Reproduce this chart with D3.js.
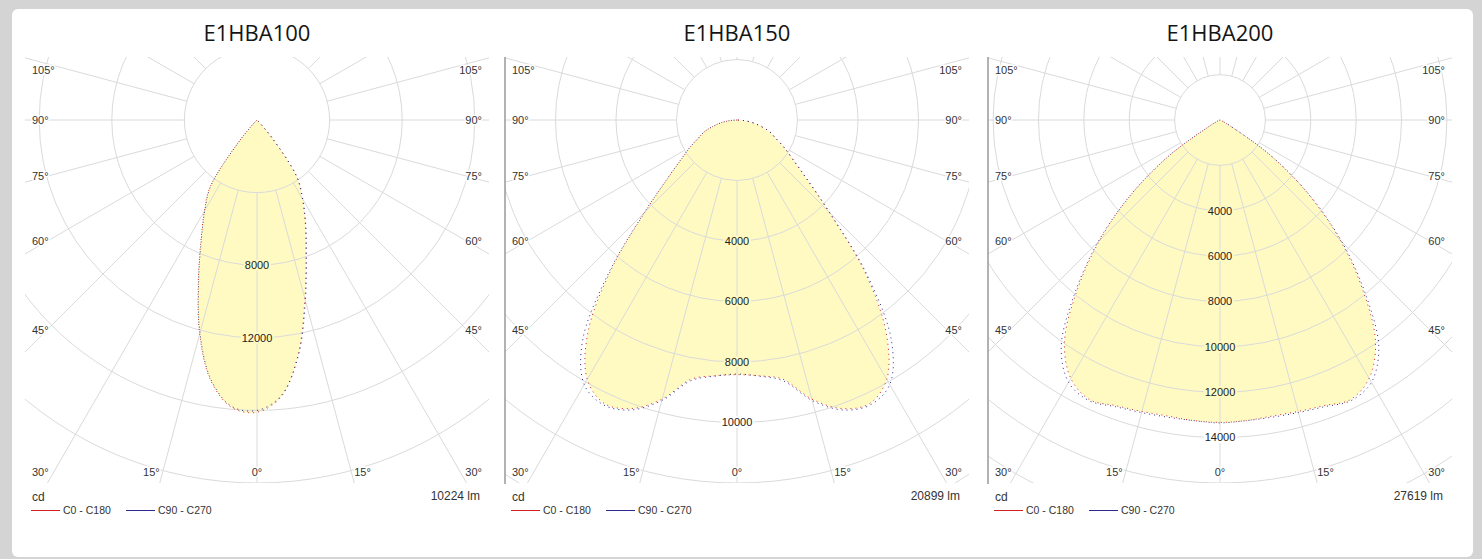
<!DOCTYPE html>
<html>
<head>
<meta charset="utf-8">
<script src="https://cdn.jsdelivr.net/npm/d3@7"></script>
<style>
  html, body { margin: 0; padding: 0; background: #d4d4d4; }
  svg { display: block; }
  text { font-family: Arial, "Liberation Sans", sans-serif; }
</style>
</head>
<body>
<div id="chart"></div>
<script>
// photometric angles (gamma), degrees from nadir
var angles = [0, 5, 10, 15, 20, 25, 30, 35, 40, 45, 50, 55, 60, 65, 70, 75, 80, 85, 90];

var titles = ["E1HBA100", "E1HBA150", "E1HBA200"];
var fluxLabels = ["10224 lm", "20899 lm", "27619 lm"];
var ringStep = [4000, 2000, 2000];
var ringMax = [20000, 12000, 16000];
var ringLabels = [
    [8000, 12000],
    [4000, 6000, 8000, 10000],
    [4000, 6000, 8000, 10000, 12000, 14000]
];
var sideAngles = [105, 90, 75, 60, 45];
var bottomAngles = [30, 15, 0];
var legendNames = ["C0 - C180", "C90 - C270"];

// intensities in cd, one value per angle
var c0_100   = [16100, 15300, 13100, 10200, 7900, 6300, 5000, 3800, 1300, 100, 0, 0, 0, 0, 0, 0, 0, 0, 0];
var c180_100 = [16100, 15900, 14600, 12200, 9450, 7300, 5800, 4500, 1500, 150, 0, 0, 0, 0, 0, 0, 0, 0, 0];
var c90_100  = [16000, 15250, 13150, 10300, 7950, 6350, 5050, 3850, 1350, 100, 0, 0, 0, 0, 0, 0, 0, 0, 0];
var c270_100 = [16050, 15850, 14550, 12150, 9400, 7250, 5750, 4450, 1450, 150, 0, 0, 0, 0, 0, 0, 0, 0, 0];

var c0_150   = [8420, 8490, 8700, 9550, 10150, 10350, 9900, 8600, 6600, 4300, 2970, 2230, 1780, 1400, 1160, 830, 540, 260, 0];
var c180_150 = [8420, 8490, 8700, 9550, 10150, 10350, 9900, 8600, 6500, 4300, 2970, 2230, 1780, 1400, 1160, 830, 540, 260, 0];
var c90_150  = [8400, 8500, 8750, 9600, 10200, 10400, 10100, 8900, 6700, 4350, 3000, 2250, 1790, 1400, 1160, 830, 540, 260, 0];
var c270_150 = [8400, 8500, 8750, 9600, 10200, 10400, 10100, 8900, 6600, 4350, 3000, 2250, 1790, 1400, 1160, 830, 540, 260, 0];

var c0_200   = [13330, 13300, 13250, 13300, 13400, 13600, 13150, 11950, 9800, 7500, 5100, 2700, 500, 120, 40, 0, 0, 0, 0];
var c180_200 = [13330, 13300, 13250, 13300, 13400, 13600, 13150, 11950, 9800, 7500, 5100, 2700, 500, 120, 40, 0, 0, 0, 0];
var c90_200  = [13350, 13300, 13300, 13350, 13450, 13650, 13350, 12200, 9950, 7600, 5150, 2750, 520, 120, 40, 0, 0, 0, 0];
var c270_200 = [13350, 13300, 13300, 13350, 13450, 13650, 13350, 12200, 9950, 7600, 5150, 2750, 520, 120, 40, 0, 0, 0, 0];

var curves = [
    { red: [c0_100, c180_100], blue: [c90_100, c270_100] },
    { red: [c0_150, c180_150], blue: [c90_150, c270_150] },
    { red: [c0_200, c180_200], blue: [c90_200, c270_200] }
];

var W = 1482, H = 559;
var panelLeft = [25, 505, 988];
var panelW = 464, top0 = 57, bottom0 = 483, cy = 120;
var gridColor = "#dadada";
var fillColor = "#fffac2";

var svg = d3.select("#chart").append("svg")
    .attr("width", W)
    .attr("height", H);

svg.append("rect")
    .attr("x", 12).attr("y", 9)
    .attr("width", 1461).attr("height", 548)
    .attr("rx", 6)
    .attr("fill", "#fff");

var toRad = Math.PI / 180;

// signed gamma list: C180 side (left) then C0 side (right)
function profile(right, left) {
    var pts = [];
    for (var i = angles.length - 1; i > 0; i--) pts.push([-angles[i], left[i]]);
    for (var j = 0; j < angles.length; j++) pts.push([angles[j], right[j]]);
    return pts;
}

titles.forEach(function (title, p) {
    var x0 = panelLeft[p], x1 = x0 + panelW, cx = x0 + panelW / 2;
    var R = bottom0 - cy;
    var r = d3.scaleLinear().domain([0, ringMax[p]]).range([0, R]);
    var g = svg.append("g");

    g.append("clipPath").attr("id", "clip" + p)
        .append("rect")
        .attr("x", x0).attr("y", top0)
        .attr("width", panelW).attr("height", bottom0 - top0);

    var plot = g.append("g")
        .attr("clip-path", "url(#clip" + p + ")")
        .append("g")
        .attr("transform", "translate(" + cx + "," + cy + ")");

    var line = d3.lineRadial()
        .angle(function (d) { return Math.PI - d[0] * toRad; })
        .radius(function (d) { return r(d[1]); })
        .curve(d3.curveCatmullRom.alpha(0.5));

    var redPts = profile(curves[p].red[0], curves[p].red[1]);
    var bluePts = profile(curves[p].blue[0], curves[p].blue[1]);

    plot.append("path")
        .attr("d", line(redPts) + "Z")
        .attr("fill", fillColor)
        .attr("stroke", "none");

    // rings
    var rings = d3.range(ringStep[p], ringMax[p] * 1.6, ringStep[p]);
    plot.selectAll(".ring")
        .data(rings)
        .enter().append("circle")
        .attr("r", function (d) { return r(d); })
        .attr("fill", "none")
        .attr("stroke", gridColor)
        .attr("stroke-width", 1);

    // spokes every 15 deg, starting at first ring
    var spokes = d3.range(0, 360, 15);
    plot.selectAll(".spoke")
        .data(spokes)
        .enter().append("line")
        .attr("x1", function (d) { return r(ringStep[p]) * Math.sin(d * toRad); })
        .attr("y1", function (d) { return r(ringStep[p]) * Math.cos(d * toRad); })
        .attr("x2", function (d) { return 700 * Math.sin(d * toRad); })
        .attr("y2", function (d) { return 700 * Math.cos(d * toRad); })
        .attr("stroke", gridColor)
        .attr("stroke-width", 1);

    plot.append("path")
        .attr("d", line(redPts) + "Z")
        .attr("fill", "none")
        .attr("stroke", "#d42020")
        .attr("stroke-width", 1)
        .attr("stroke-dasharray", "1 4");

    plot.append("path")
        .attr("d", line(bluePts) + "Z")
        .attr("fill", "none")
        .attr("stroke", "#2a2a90")
        .attr("stroke-width", 1)
        .attr("stroke-dasharray", "1 4")
        .attr("stroke-dashoffset", 2.5);

    // cd labels on the 0 deg axis
    var i0 = curves[p].red[0][0];
    plot.selectAll(".rlab")
        .data(ringLabels[p])
        .enter().append("text")
        .attr("x", 0)
        .attr("y", function (d) { return r(d); })
        .attr("dy", "0.35em")
        .attr("text-anchor", "middle")
        .attr("font-size", 11)
        .attr("fill", "#222")
        .attr("stroke", function (d) { return d < i0 ? fillColor : "#fff"; })
        .attr("stroke-width", 4)
        .attr("paint-order", "stroke")
        .text(function (d) { return d; });

    // divider on the left of panels 2 and 3
    if (p > 0) {
        g.append("line")
            .attr("x1", x0).attr("x2", x0)
            .attr("y1", top0).attr("y2", bottom0 + 1)
            .attr("stroke", "#999")
            .attr("stroke-width", 1.5);
    }

    // angle labels on both sides
    var lab = g.append("g")
        .attr("font-size", 11)
        .attr("fill", "#333")
        .attr("stroke", "#fff")
        .attr("stroke-width", 3)
        .attr("paint-order", "stroke");

    sideAngles.forEach(function (a) {
        var y = cy + 210 * Math.tan((90 - a) * toRad);
        y = Math.max(top0 + 13, y);
        lab.append("text").attr("x", x0 + 7).attr("y", y).attr("dy", "0.35em")
            .attr("text-anchor", "start").text(a + "°");
        lab.append("text").attr("x", x1 - 7).attr("y", y).attr("dy", "0.35em")
            .attr("text-anchor", "end").text(a + "°");
    });

    bottomAngles.forEach(function (a) {
        var yb = bottom0 - 7;
        if (a === 0) {
            lab.append("text").attr("x", cx).attr("y", yb)
                .attr("text-anchor", "middle").text(a + "°");
        } else if (a === 30) {
            lab.append("text").attr("x", x0 + 7).attr("y", yb)
                .attr("text-anchor", "start").text(a + "°");
            lab.append("text").attr("x", x1 - 7).attr("y", yb)
                .attr("text-anchor", "end").text(a + "°");
        } else {
            var off = R * Math.tan(a * toRad);
            lab.append("text").attr("x", cx - off).attr("y", yb)
                .attr("text-anchor", "end").text(a + "°");
            lab.append("text").attr("x", cx + off).attr("y", yb)
                .attr("text-anchor", "start").text(a + "°");
        }
    });

    // title
    g.append("text")
        .attr("x", cx).attr("y", 41)
        .attr("text-anchor", "middle")
        .style("font-family", "'Open Sans', sans-serif")
        .attr("font-size", 22)
        .attr("fill", "#151515")
        .text(title);

    // unit + flux
    g.append("text")
        .attr("x", x0 + 7).attr("y", 501)
        .attr("font-size", 12).attr("fill", "#333")
        .text("cd");
    g.append("text")
        .attr("x", x0 + 455).attr("y", 500)
        .attr("text-anchor", "end")
        .attr("font-size", 12).attr("fill", "#333")
        .text(fluxLabels[p]);

    // legend
    var legColors = ["#d42020", "#2a2a90"];
    legendNames.forEach(function (name, k) {
        var lx = x0 + 6 + k * 95;
        g.append("line")
            .attr("x1", lx).attr("x2", lx + 29)
            .attr("y1", 510.5).attr("y2", 510.5)
            .attr("stroke", legColors[k]).attr("stroke-width", 1);
        g.append("text")
            .attr("x", lx + 32).attr("y", 514)
            .attr("font-size", 10.5).attr("fill", "#333")
            .text(name);
    });
});
</script>
</body>
</html>
